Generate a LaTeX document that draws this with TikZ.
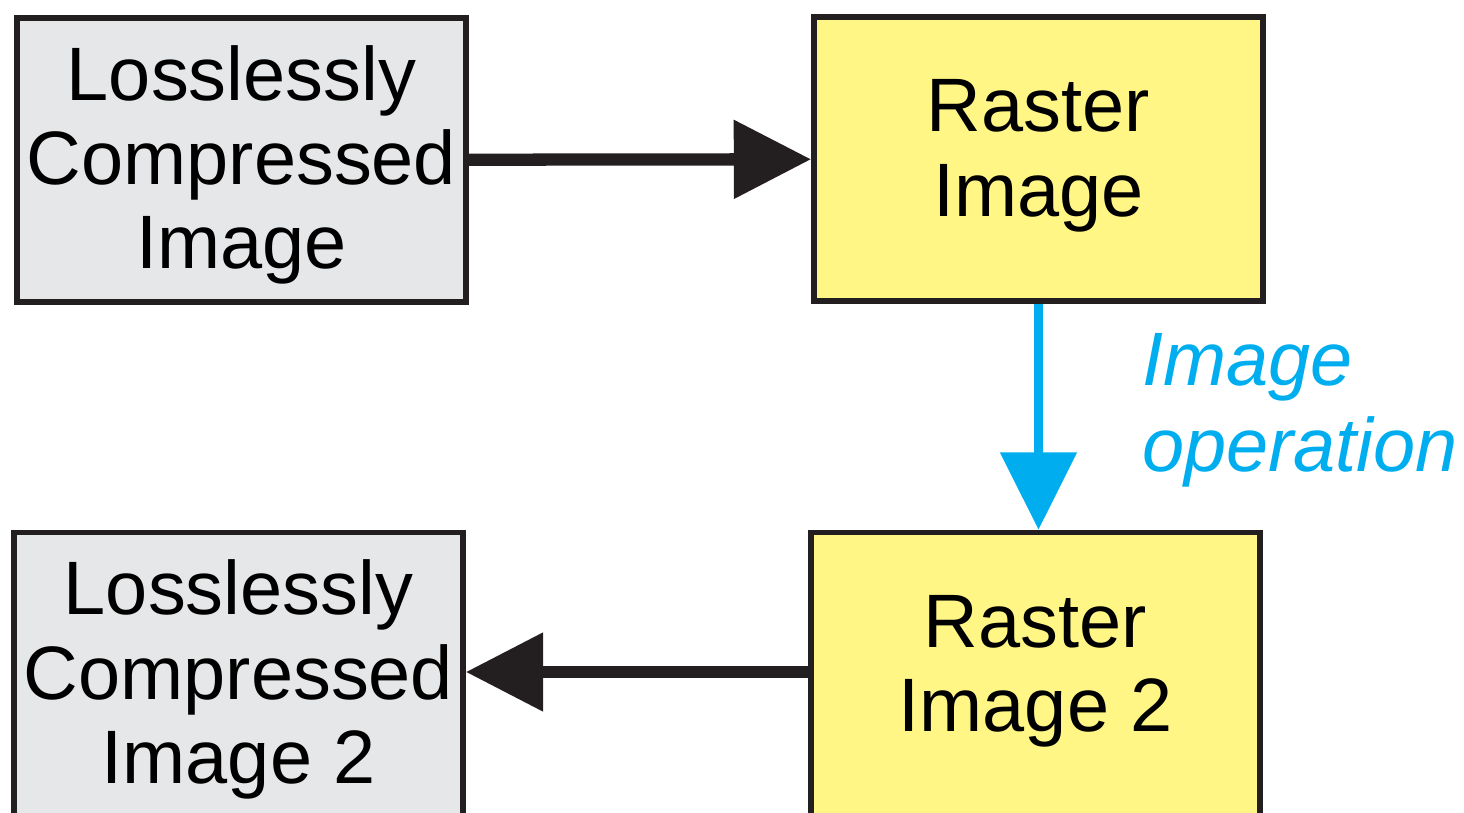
\documentclass[tikz,border=0pt]{standalone}
\usepackage{fontspec}
\setmainfont{Liberation Sans}
\usetikzlibrary{arrows.meta}
\definecolor{boxline}{HTML}{231F20}
\definecolor{grayfill}{HTML}{E6E7E8}
\definecolor{yellowfill}{HTML}{FFF685}
\definecolor{opblue}{HTML}{00AEEF}

\begin{document}
\begin{tikzpicture}[x=0.75pt, y=-0.75pt,
    every node/.style={font=\fontsize{56.8}{63.3}\selectfont},
    filebox/.style={draw=boxline, line width=4.1pt, fill=grayfill, minimum width=337pt, minimum height=213pt, align=center, inner sep=0pt, text depth=4.4pt},
    rasterbox/.style={filebox, fill=yellowfill, text depth=16.4pt},
    flow/.style={draw=boxline, line width=9.2pt, -{Triangle[length=58pt, width=57pt]}},
    opflow/.style={draw=opblue, line width=7pt, -{Triangle[length=58pt, width=56pt]}}]
    \useasboundingbox (0,0) rectangle (1464,813);
    \clip (0,0) rectangle (1464,813);
    % boxes
    \node[filebox]   (lossless)  at (241.5,160) {Losslessly\\Compressed\\Image};
    \node[rasterbox] (raster)    at (1038.5,159) {Raster\\Image};
    \node[rasterbox] (raster2)   at (1035.5,674.5) {Raster\\Image 2};
    \node[filebox]   (lossless2) at (238.5,674.5) {Losslessly\\Compressed\\Image 2};
    % arrows
    \draw[flow] (lossless) -- (raster);
    \draw[opflow] (raster.south) -- (raster.south |- raster2.north);
    \draw[flow] (raster2.west |- 0,672) -- (lossless2.east |- 0,672);
    \node[anchor=north west, align=left, inner sep=0pt, text=opblue, font=\fontsize{56.8}{64.5}\selectfont\itshape]
        (oplabel) at (1142,333) {Image\\operation};
\end{tikzpicture}
\end{document}
